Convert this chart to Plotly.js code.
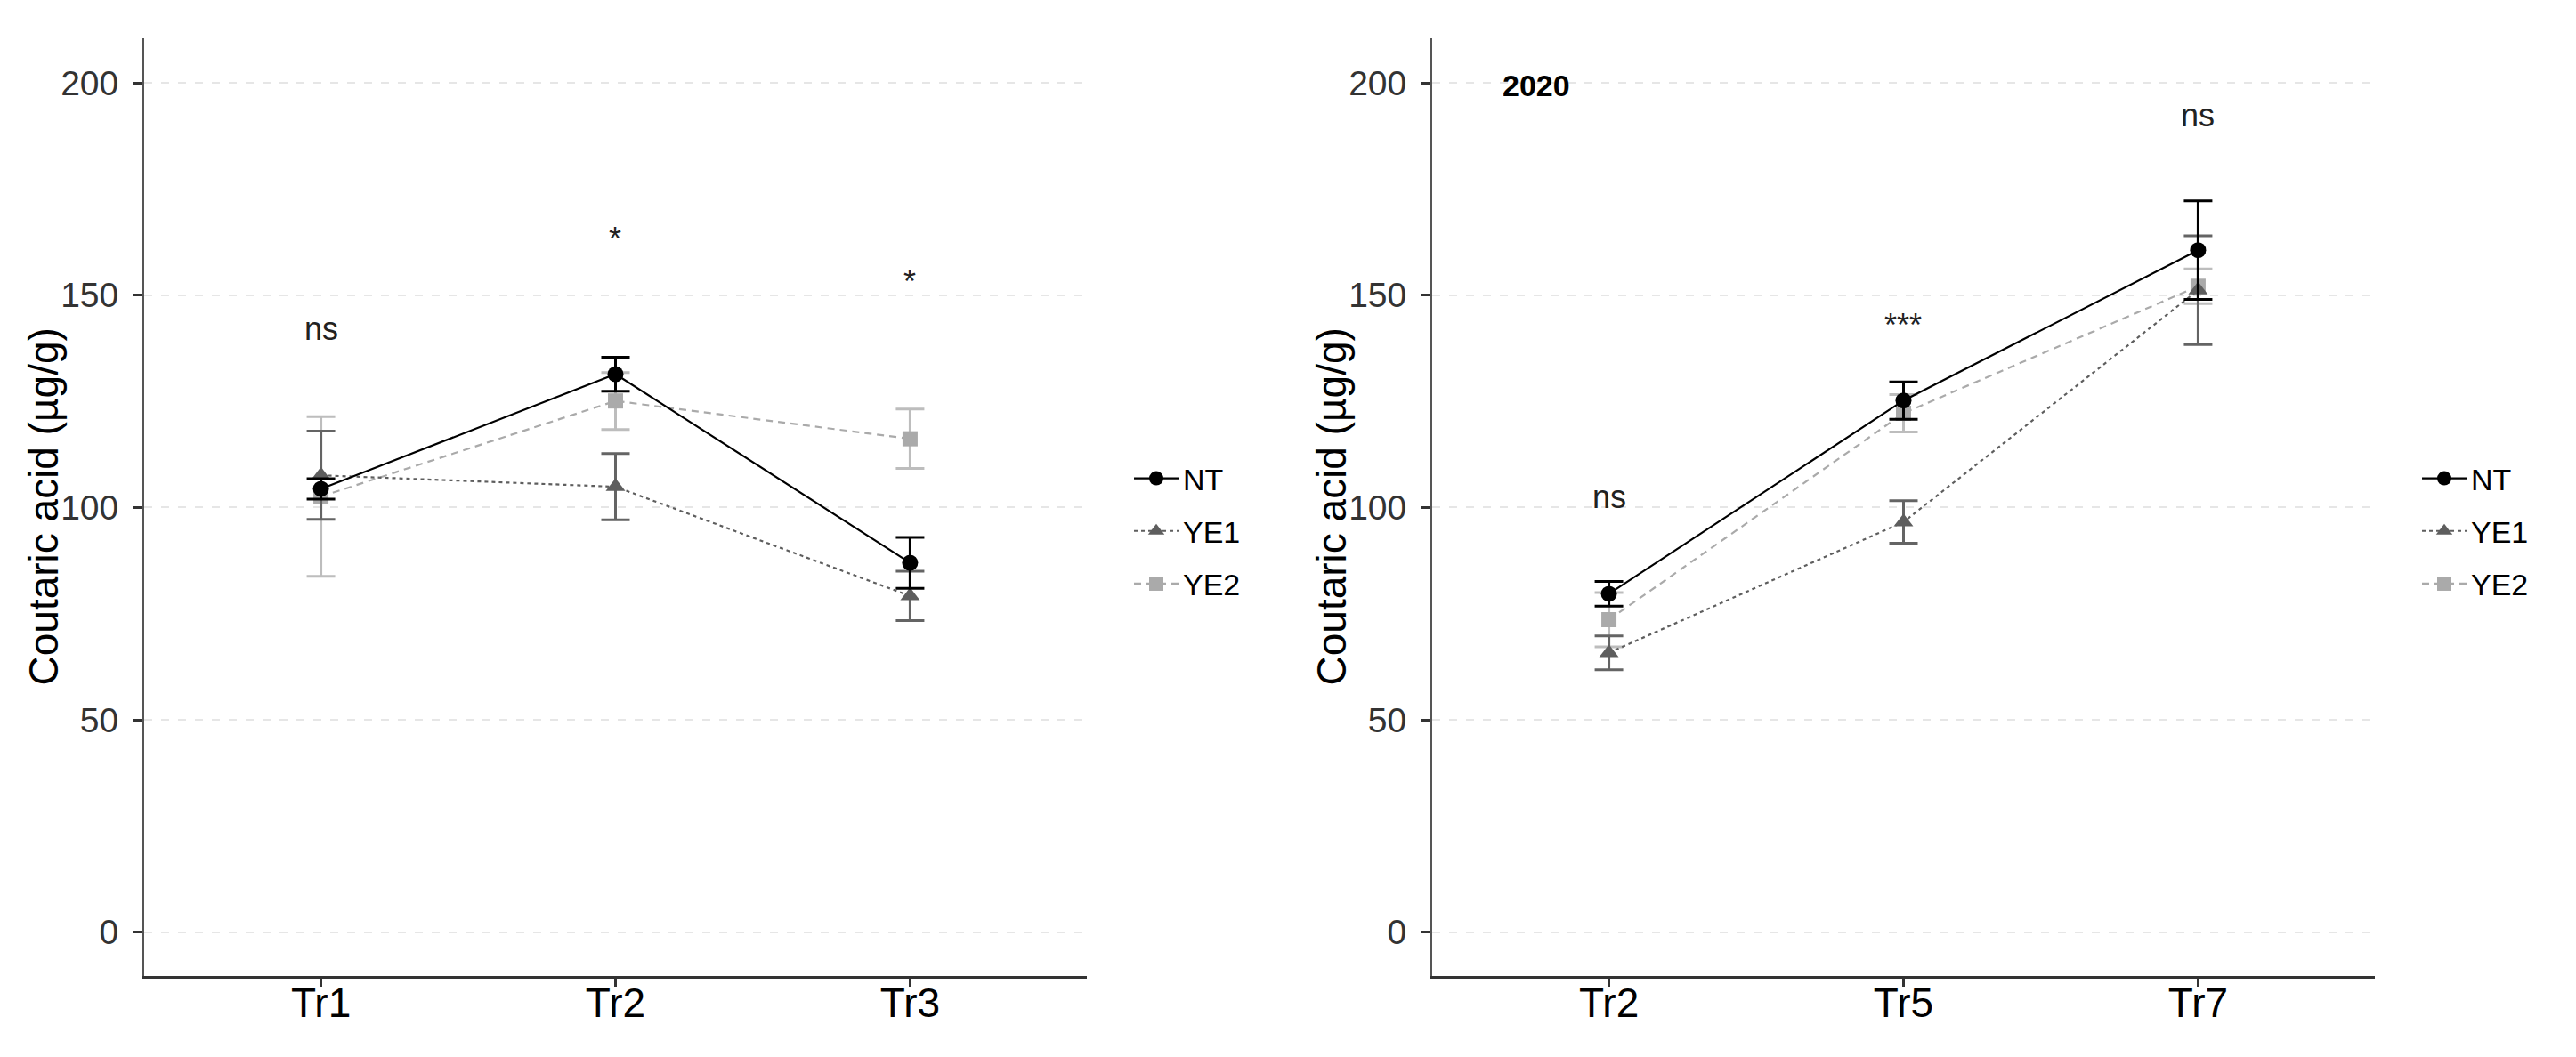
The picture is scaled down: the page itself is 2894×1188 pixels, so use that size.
<!DOCTYPE html>
<html>
<head>
<meta charset="utf-8">
<script src="https://cdn.plot.ly/plotly-3.0.1.min.js"></script>
<style>
    html, body { margin: 0; padding: 0; background: #ffffff; }
    #chart { width: 2894px; height: 1188px; }
</style>
</head>
<body>
<div id="chart"></div>
<script>
// Coutaric acid, mean +- se
const groups = ["NT", "YE1", "YE2"];

const leftStages = ["Tr1", "Tr2", "Tr3"];
const leftNT = [104.4, 131.4, 87.0];
const leftNTse = [2.4, 4.0, 6.0];
const leftYE1 = [107.6, 104.9, 79.2];
const leftYE1se = [10.4, 7.8, 5.8];
const leftYE2 = [102.6, 125.1, 116.2];
const leftYE2se = [18.8, 6.7, 7.0];
const leftSig = ["ns", "*", "*"];
const leftSigY = [141.7, 164.0, 154.0];

const rightStages = ["Tr2", "Tr5", "Tr7"];
const rightNT = [79.7, 125.2, 160.6];
const rightNTse = [2.9, 4.4, 11.6];
const rightYE1 = [65.8, 96.6, 151.2];
const rightYE1se = [4.0, 5.0, 12.8];
const rightYE2 = [73.6, 122.2, 152.1];
const rightYE2se = [6.4, 4.4, 4.1];
const rightSig = ["ns", "***", "ns"];
const rightSigY = [102.0, 143.7, 191.9];

const yearLabel = "2020";
const yTitle = "Coutaric acid (µg/g)";
const yTicks = [0, 50, 100, 150, 200];

const fontFamily = "'Liberation Sans', Arial, sans-serif";

const styles = {
    NT:  { color: "#000000", bar: "#000000", dash: "solid", symbol: "circle", size: 18 },
    YE1: { color: "#5e5e5e", bar: "#646464", dash: "4px,4px", symbol: "triangle-up", size: 19 },
    YE2: { color: "#aaaaaa", bar: "#bdbdbd", dash: "8px,6px", symbol: "square", size: 17 }
};

function makeTrace(name, stages, values, se, xa, ya, legendName) {
    const s = styles[name];
    return {
        x: stages,
        y: values,
        name: name,
        type: 'scatter',
        mode: 'lines+markers',
        xaxis: xa,
        yaxis: ya,
        legend: legendName,
        legendgroup: legendName + name,
        legendrank: groups.indexOf(name) + 1,
        line: { color: s.color, width: 2.2, dash: s.dash },
        marker: { color: s.color, size: s.size, symbol: s.symbol },
        error_y: { type: 'data', array: se, visible: true, color: s.bar, thickness: 3, width: 16 },
        cliponaxis: false
    };
}

const traces = [
    makeTrace("YE2", leftStages, leftYE2, leftYE2se, 'x', 'y', 'legend'),
    makeTrace("YE1", leftStages, leftYE1, leftYE1se, 'x', 'y', 'legend'),
    makeTrace("NT", leftStages, leftNT, leftNTse, 'x', 'y', 'legend'),
    makeTrace("YE2", rightStages, rightYE2, rightYE2se, 'x2', 'y2', 'legend2'),
    makeTrace("YE1", rightStages, rightYE1, rightYE1se, 'x2', 'y2', 'legend2'),
    makeTrace("NT", rightStages, rightNT, rightNTse, 'x2', 'y2', 'legend2')
];

function sigAnnotations(stages, labels, ys, xref, yref) {
    return labels.map((lab, i) => ({
        x: stages[i],
        y: ys[i],
        xref: xref,
        yref: yref,
        text: lab,
        showarrow: false,
        yanchor: 'middle',
        yshift: lab.indexOf('*') >= 0 ? -4 : 2,
        font: { family: fontFamily, size: 36, color: "#222222" }
    }));
}

function titleAnnotation(x) {
    return {
        x: x,
        y: 0.5202,
        xref: 'paper',
        yref: 'paper',
        xanchor: 'center',
        yanchor: 'middle',
        textangle: -90,
        text: yTitle,
        showarrow: false,
        font: { family: fontFamily, size: 46, color: "#000000" }
    };
}

function xAxis(domain, stages) {
    return {
        domain: domain,
        type: 'category',
        categoryorder: 'array',
        categoryarray: stages,
        range: [-0.6, 2.6],
        showgrid: false,
        zeroline: false,
        showline: true,
        linecolor: "#333333",
        linewidth: 3,
        ticks: 'outside',
        ticklen: 9,
        tickwidth: 3,
        tickcolor: "#333333",
        ticklabelstandoff: -21,
        tickfont: { family: fontFamily, size: 46, color: "#000000" },
        fixedrange: true
    };
}

function yAxis(anchor) {
    return {
        domain: [0.0766, 0.9638],
        anchor: anchor,
        range: [-10.3, 210.5],
        tickvals: yTicks,
        showgrid: true,
        gridcolor: "#e6e6e6",
        gridwidth: 2,
        griddash: '9px,10px',
        zeroline: false,
        showline: true,
        linecolor: "#555555",
        linewidth: 3,
        ticks: 'outside',
        ticklen: 10,
        tickwidth: 3,
        tickcolor: "#333333",
        ticklabelstandoff: 8,
        tickfont: { family: fontFamily, size: 39, color: "#333333" },
        fixedrange: true
    };
}

function legendBox(x) {
    return {
        x: x,
        y: 0.4975,
        xanchor: 'left',
        yanchor: 'middle',
        traceorder: 'grouped',
        tracegroupgap: 12,
        itemwidth: 50,
        bgcolor: 'rgba(0,0,0,0)',
        font: { family: fontFamily, size: 34, color: "#000000" }
    };
}

const layout = {
    width: 2894,
    height: 1188,
    margin: { l: 0, r: 0, t: 0, b: 0 },
    paper_bgcolor: "#ffffff",
    plot_bgcolor: "#ffffff",
    showlegend: true,
    xaxis: xAxis([0.05598, 0.4219], leftStages),
    yaxis: yAxis('x'),
    xaxis2: Object.assign(xAxis([0.55598, 0.9219], rightStages), { anchor: 'y2' }),
    yaxis2: yAxis('x2'),
    legend: legendBox(0.4385),
    legend2: legendBox(0.9385),
    annotations: sigAnnotations(leftStages, leftSig, leftSigY, 'x', 'y')
        .concat(sigAnnotations(rightStages, rightSig, rightSigY, 'x2', 'y2'))
        .concat([titleAnnotation(0.01676), titleAnnotation(0.51676)])
        .concat([{
            x: 0.0727,
            y: 199.4,
            xref: 'x2 domain',
            yref: 'y2',
            xanchor: 'left',
            yanchor: 'middle',
            text: '<b>' + yearLabel + '</b>',
            showarrow: false,
            font: { family: fontFamily, size: 34, color: "#000000" }
        }])
};

Plotly.newPlot('chart', traces, layout, { displayModeBar: false, staticPlot: true });
</script>
</body>
</html>
